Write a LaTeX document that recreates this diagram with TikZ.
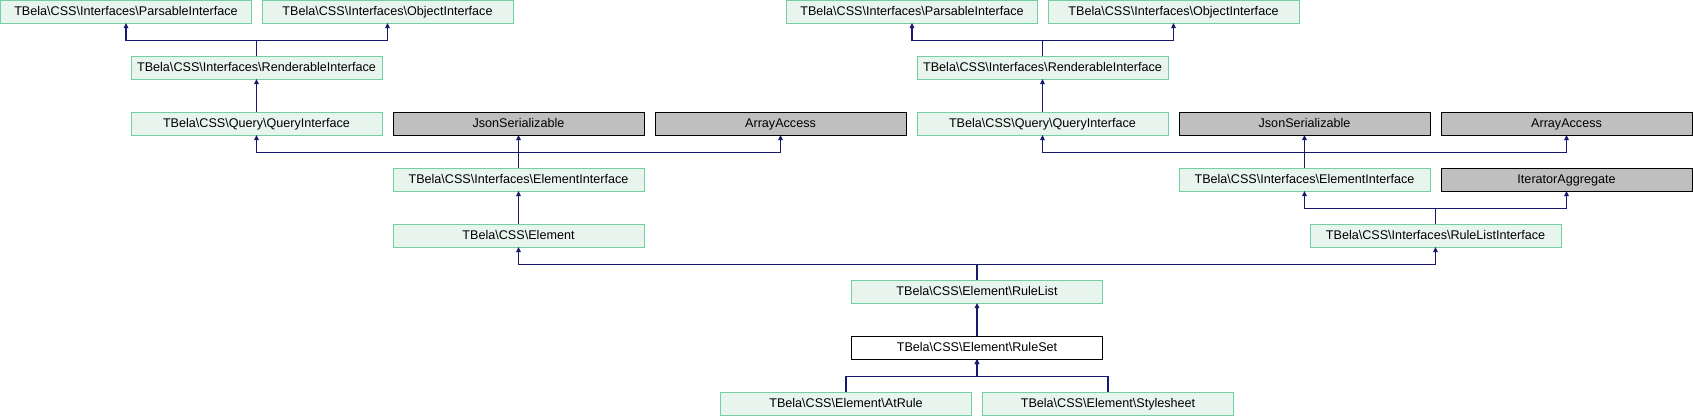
\documentclass[tikz,border=0pt]{standalone}
\usepackage{fontspec}
\setmainfont{Liberation Sans}
\usetikzlibrary{arrows.meta,positioning,calc}
\definecolor{clsFill}{HTML}{E8F5EE}
\definecolor{clsLine}{HTML}{73D0A0}
\definecolor{extFill}{HTML}{BFBFBF}
\definecolor{edgeCol}{HTML}{191970}
\tikzset{
  box/.style={minimum width=251pt, minimum height=23pt, inner sep=0pt, outer sep=0pt, text height=9pt, text depth=2pt, line width=1pt, font=\fontsize{12.6}{14}\selectfont},
  cls/.style={box, draw=clsLine, fill=clsFill},
  ext/.style={box, draw=black, fill=extFill},
  cur/.style={box, draw=black, fill=white},
  arr/.style={-{Triangle[length=5pt, width=4.5pt]}, edgeCol, line width=1.1pt},
}

\begin{document}
\begin{tikzpicture}[x=1pt, y=-1pt]
  \useasboundingbox (0,0) rectangle (1693,416);
  % left branch (via Element)
  \node[cls] (pl) at (126,11.5) {TBela\textbackslash CSS\textbackslash Interfaces\textbackslash ParsableInterface};
  \node[cls] (ol) at (387.5,11.5) {TBela\textbackslash CSS\textbackslash Interfaces\textbackslash ObjectInterface};
  \node[cls] (rl) at (256.5,67.5) {TBela\textbackslash CSS\textbackslash Interfaces\textbackslash RenderableInterface};
  \node[cls] (ql) at (256.5,123.5) {TBela\textbackslash CSS\textbackslash Query\textbackslash QueryInterface};
  \node[ext] (jl) at (518.5,123.5) {JsonSerializable};
  \node[ext] (al) at (780.5,123.5) {ArrayAccess};
  \node[cls] (el) at (518.5,179.5) {TBela\textbackslash CSS\textbackslash Interfaces\textbackslash ElementInterface};
  \node[cls] (elm) at (518.5,235.5) {TBela\textbackslash CSS\textbackslash Element};
  % right branch (via RuleListInterface)
  \node[cls] (pr) at (912,11.5) {TBela\textbackslash CSS\textbackslash Interfaces\textbackslash ParsableInterface};
  \node[cls] (or) at (1173.5,11.5) {TBela\textbackslash CSS\textbackslash Interfaces\textbackslash ObjectInterface};
  \node[cls] (rr) at (1042.5,67.5) {TBela\textbackslash CSS\textbackslash Interfaces\textbackslash RenderableInterface};
  \node[cls] (qr) at (1042.5,123.5) {TBela\textbackslash CSS\textbackslash Query\textbackslash QueryInterface};
  \node[ext] (jr) at (1304.5,123.5) {JsonSerializable};
  \node[ext] (ar) at (1566.5,123.5) {ArrayAccess};
  \node[cls] (er) at (1304.5,179.5) {TBela\textbackslash CSS\textbackslash Interfaces\textbackslash ElementInterface};
  \node[ext] (ia) at (1566.5,179.5) {IteratorAggregate};
  \node[cls] (rli) at (1435.5,235.5) {TBela\textbackslash CSS\textbackslash Interfaces\textbackslash RuleListInterface};
  % lower part
  \node[cls] (rlist) at (977,291.5) {TBela\textbackslash CSS\textbackslash Element\textbackslash RuleList};
  \node[cur] (rset) at (977,347.5) {TBela\textbackslash CSS\textbackslash Element\textbackslash RuleSet};
  \node[cls] (at) at (846,403.5) {TBela\textbackslash CSS\textbackslash Element\textbackslash AtRule};
  \node[cls] (ss) at (1108,403.5) {TBela\textbackslash CSS\textbackslash Element\textbackslash Stylesheet};
  % edges
  \draw[arr] (rl.north) -- ++(0,-15.5) -| (pl.south);
  \draw[arr] (rl.north) -- ++(0,-15.5) -| (ol.south);
  \draw[arr] (ql) -- (rl);
  \draw[arr] (el.north) -- ++(0,-15.5) -| (ql.south);
  \draw[arr] (el) -- (jl);
  \draw[arr] (el.north) -- ++(0,-15.5) -| (al.south);
  \draw[arr] (elm) -- (el);
  \draw[arr] (rr.north) -- ++(0,-15.5) -| (pr.south);
  \draw[arr] (rr.north) -- ++(0,-15.5) -| (or.south);
  \draw[arr] (qr) -- (rr);
  \draw[arr] (er.north) -- ++(0,-15.5) -| (qr.south);
  \draw[arr] (er) -- (jr);
  \draw[arr] (er.north) -- ++(0,-15.5) -| (ar.south);
  \draw[arr] (rli.north) -- ++(0,-15.5) -| (er.south);
  \draw[arr] (rli.north) -- ++(0,-15.5) -| (ia.south);
  \draw[arr] (rlist.north) -- ++(0,-15.5) -| (elm.south);
  \draw[arr] (rlist.north) -- ++(0,-15.5) -| (rli.south);
  \draw[arr] (rset) -- (rlist);
  \draw[arr] (at.north) -- ++(0,-15.5) -| (rset.south);
  \draw[arr] (ss.north) -- ++(0,-15.5) -| (rset.south);
\end{tikzpicture}
\end{document}
